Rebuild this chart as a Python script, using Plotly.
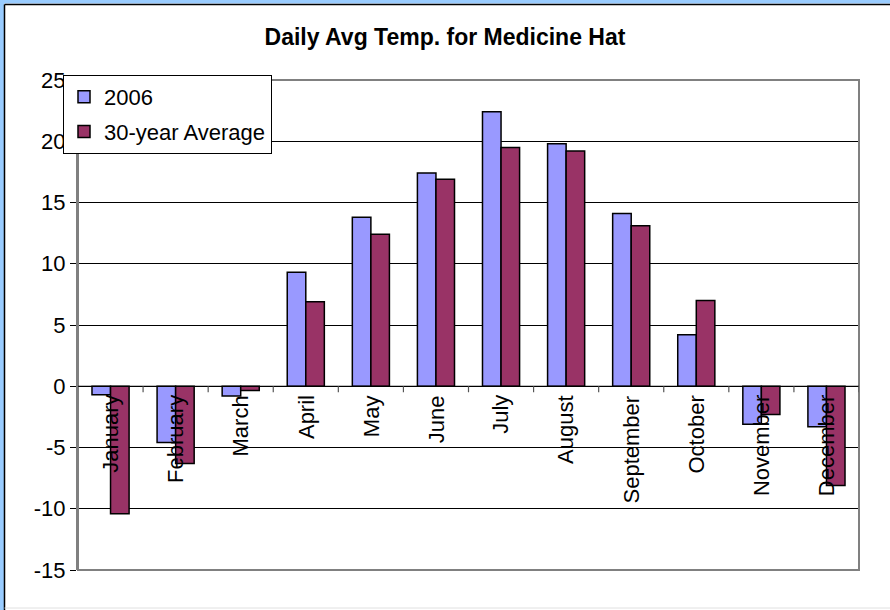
import plotly.graph_objects as go

months = ["January", "February", "March", "April", "May", "June", "July",
          "August", "September", "October", "November", "December"]
temp_2006 = [-0.7, -4.6, -0.8, 9.3, 13.8, 17.4, 22.4, 19.8, 14.1, 4.2, -3.1, -3.3]
temp_30yr = [-10.4, -6.3, -0.35, 6.9, 12.4, 16.9, 19.5, 19.2, 13.1, 7.0, -2.3, -8.1]
series_names = ["2006", "30-year Average"]
y_ticks = [-15, -10, -5, 0, 5, 10, 15, 20, 25]
y_tick_labels = ["-15", "-10", "-5", "0", "5", "10", "15", "20", "25"]

W, H = 890, 610
L, R, T, B = 78, 31, 80, 40
PW, PH = W - L - R, H - T - B


def px_x(px):
    return (px - L) / PW


def px_y(py):
    return (H - B - py) / PH


FONT = "Arial, Liberation Sans, sans-serif"

fig = go.Figure()
fig.add_trace(go.Bar(
    x=months, y=temp_2006, name=series_names[0], legendgroup="a",
    marker=dict(color="#9999FF", line=dict(color="black", width=1.5)),
))
fig.add_trace(go.Bar(
    x=months, y=temp_30yr, name=series_names[1], legendgroup="b",
    marker=dict(color="#993366", line=dict(color="black", width=1.5)),
))

shapes = []
# outer blue frame (top and left) with black inner line
shapes.append(dict(type="rect", xref="paper", yref="paper",
                   x0=px_x(-10), x1=px_x(4), y0=px_y(H + 10), y1=px_y(-10),
                   fillcolor="#99CCFF", line=dict(width=0), layer="above"))
shapes.append(dict(type="rect", xref="paper", yref="paper",
                   x0=px_x(-10), x1=px_x(W + 10), y0=px_y(3.5), y1=px_y(-10),
                   fillcolor="#99CCFF", line=dict(width=0), layer="above"))
shapes.append(dict(type="line", xref="paper", yref="paper",
                   x0=px_x(4.5), x1=px_x(W + 10), y0=px_y(4.5), y1=px_y(4.5),
                   line=dict(color="black", width=1.5)))
shapes.append(dict(type="line", xref="paper", yref="paper",
                   x0=px_x(4.5), x1=px_x(4.5), y0=px_y(4.5), y1=px_y(H + 10),
                   line=dict(color="black", width=1.5)))
shapes.append(dict(type="line", xref="paper", yref="paper",
                   x0=px_x(4.5), x1=px_x(W + 10), y0=px_y(608), y1=px_y(608),
                   line=dict(color="#E0E0E0", width=1)))
# plot area border
shapes.append(dict(type="rect", xref="paper", yref="paper", x0=0, x1=1, y0=0, y1=1,
                   line=dict(color="#808080", width=2), layer="above"))
# zero line
shapes.append(dict(type="line", xref="paper", yref="y", x0=0, x1=1, y0=0, y1=0,
                   line=dict(color="black", width=1.2), layer="above"))
# category tick marks on the zero line
for i in range(len(months)):
    shapes.append(dict(type="line", xref="x", yref="y", ysizemode="pixel", yanchor=0,
                       x0=i + 0.5, x1=i + 0.5, y0=0, y1=-6,
                       line=dict(color="#555555", width=1.2)))

annotations = []
for m in months:
    annotations.append(dict(x=m, y=0, xref="x", yref="y", text=m, showarrow=False,
                            textangle=-90, xanchor="center", yanchor="top", yshift=-7,
                            font=dict(family=FONT, size=22, color="black")))

fig.update_layout(
    width=W, height=H,
    margin=dict(l=L, r=R, t=T, b=B, pad=0),
    paper_bgcolor="white", plot_bgcolor="white",
    title=dict(text="<b>Daily Avg Temp. for Medicine Hat</b>", x=445 / W, xanchor="center",
               y=1 - 37 / H, yanchor="middle",
               font=dict(family=FONT, size=23, color="black")),
    barmode="group", bargap=0.43, bargroupgap=0,
    showlegend=True,
    legend=dict(x=px_x(63), y=px_y(75), xanchor="left", yanchor="top",
                bgcolor="white", bordercolor="black", borderwidth=1,
                font=dict(family=FONT, size=22, color="black"),
                traceorder="grouped", tracegroupgap=3, itemwidth=30),
    xaxis=dict(showticklabels=False, showgrid=False, zeroline=False, showline=False,
               ticks="", range=[-0.5, len(months) - 0.5]),
    yaxis=dict(range=[-15, 25], tickvals=y_ticks, ticktext=y_tick_labels,
               showgrid=True, gridcolor="black",
               gridwidth=1, zeroline=False, showline=True, linecolor="#808080", linewidth=2,
               ticks="outside", ticklen=6, tickcolor="black", tickwidth=1,
               tickfont=dict(family=FONT, size=22, color="black")),
    shapes=shapes, annotations=annotations,
)

fig.write_html("out.html", config={"displayModeBar": False},
               post_script="document.body.style.margin='0';document.body.style.overflow='hidden';")
